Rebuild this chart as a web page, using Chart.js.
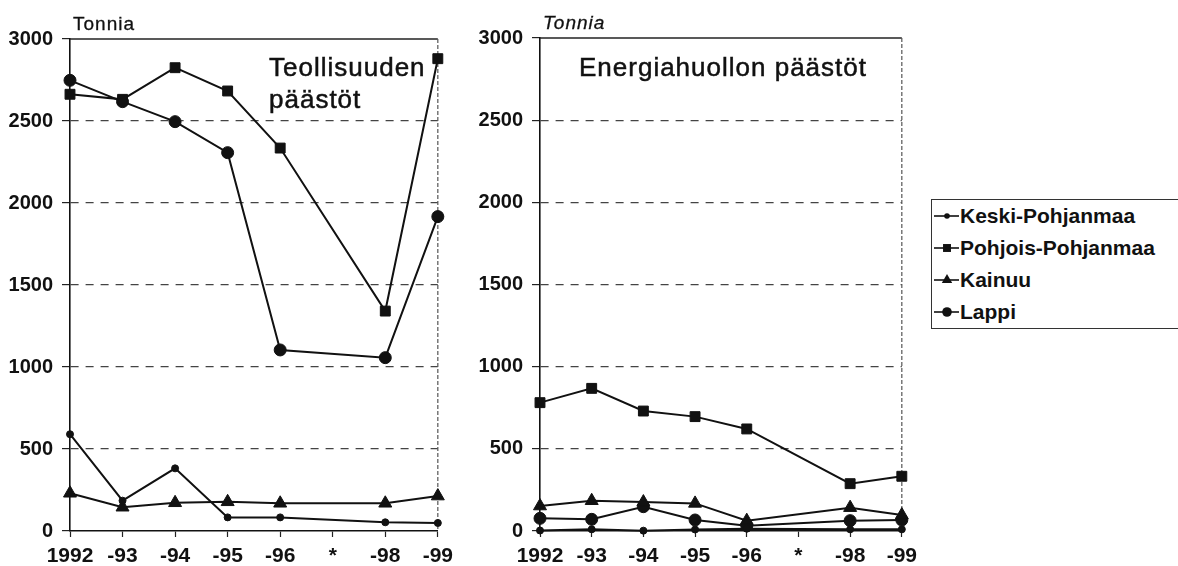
<!DOCTYPE html>
<html lang="fi">
<head>
<meta charset="utf-8">
<script src="https://cdn.jsdelivr.net/npm/chart.js@4.4.1/dist/chart.umd.min.js"></script>
<style>
  body { margin: 0; background: #fff; font-family: "Liberation Sans", Arial, sans-serif; color: #111; }
  #sivu { position: relative; width: 1178px; height: 566px; overflow: hidden; }
  canvas { position: absolute; top: 0; }
  #teol { left: 0; }
  #energia { left: 470px; }
  .yksikko { position: absolute; font-size: 19px; line-height: 20px; letter-spacing: 1px; -webkit-text-stroke: 0.3px #111; }
  .otsikko { position: absolute; font-size: 26px; line-height: 32px; letter-spacing: 1px; -webkit-text-stroke: 0.5px #111; }
  #selite { position: absolute; left: 931px; top: 199px; width: 260px; height: 128px;
            border: 1px solid #333; border-right: none; }
  #selite div { height: 32px; line-height: 32px; font-size: 21px; font-weight: bold; white-space: nowrap; }
  #selite svg { vertical-align: middle; margin-right: 1px; margin-top: -3px; }
</style>
</head>
<body>
<div id="sivu">
  <canvas id="teol" width="460" height="566"></canvas>
  <canvas id="energia" width="454" height="566"></canvas>
  <div class="yksikko" style="left:73px; top:14px;">Tonnia</div>
  <div class="yksikko" style="left:543px; top:13px; font-style:italic;">Tonnia</div>
  <div class="otsikko" style="left:269px; top:51px;">Teollisuuden<br>päästöt</div>
  <div class="otsikko" style="left:579px; top:51px;">Energiahuollon päästöt</div>
  <div id="selite"></div>
</div>
<script>
// Vuodet (1997 puuttuu, merkitty tähdellä)
const vuodet = ['1992', '-93', '-94', '-95', '-96', '*', '-98', '-99'];
const yMax = 3000;
const yAskel = 500;

// Teollisuuden päästöt, tonnia
const keskiTeol   = [590, 185, 382, 83, 83, null, 53, 49];
const pohjoisTeol = [2663, 2632, 2825, 2683, 2335, null, 1341, 2880];
const kainuuTeol  = [230, 145, 172, 178, 169, null, 169, 213];
const lappiTeol   = [2748, 2618, 2496, 2307, 1104, null, 1057, 1917];

// Energiahuollon päästöt, tonnia
const keskiEn   = [3, 10, 2, 9, 14, null, 10, 10];
const pohjoisEn = [781, 868, 730, 696, 621, null, 288, 333];
const kainuuEn  = [152, 184, 176, 168, 63, null, 142, 97];
const lappiEn   = [77, 71, 148, 67, 32, null, 63, 67];

const maakunnat = ['Keski-Pohjanmaa', 'Pohjois-Pohjanmaa', 'Kainuu', 'Lappi'];
const merkit = [
  { pointStyle: 'circle', radius: 3.5 },
  { pointStyle: 'rect', radius: 7 },
  { pointStyle: 'triangle', radius: 7.5 },
  { pointStyle: 'circle', radius: 6 }
];

const fontti = 'Liberation Sans, Arial, sans-serif';

// yläreuna ja oikea reuna piirtoalueelle
const kehys = {
  id: 'kehys',
  beforeDatasetsDraw(chart) {
    const { ctx, chartArea: a } = chart;
    ctx.save();
    ctx.strokeStyle = '#222';
    ctx.lineWidth = 1.5;
    ctx.beginPath();
    ctx.moveTo(a.left, a.top);
    ctx.lineTo(a.right, a.top);
    ctx.stroke();
    ctx.strokeStyle = '#555';
    ctx.lineWidth = 1.2;
    ctx.setLineDash([4, 2]);
    ctx.beginPath();
    ctx.moveTo(a.right, a.top);
    ctx.lineTo(a.right, a.bottom);
    ctx.stroke();
    ctx.restore();
  }
};

function sarjat(arvot) {
  return arvot.map((data, i) => ({
    label: maakunnat[i],
    data: data,
    borderColor: '#111',
    backgroundColor: '#111',
    borderWidth: 2,
    pointStyle: merkit[i].pointStyle,
    pointRadius: merkit[i].radius,
    pointHoverRadius: merkit[i].radius,
    pointBorderWidth: 1,
    spanGaps: true,
    tension: 0,
    clip: false
  }));
}

function kaavio(id, arvot, ylaTila) {
  return new Chart(document.getElementById(id), {
    type: 'line',
    data: { labels: vuodet, datasets: sarjat(arvot) },
    options: {
      responsive: false,
      animation: false,
      events: [],
      layout: { padding: { top: ylaTila, right: 21, left: 0, bottom: 0 } },
      plugins: { legend: { display: false }, tooltip: { enabled: false } },
      scales: {
        x: {
          offset: false,
          afterFit: s => { s.height = 35; },
          grid: { drawOnChartArea: false, tickLength: 6, tickColor: '#222', tickWidth: 1.2 },
          border: { color: '#111', width: 1.6 },
          ticks: {
            color: '#111', padding: 7, maxRotation: 0, autoSkip: false,
            font: { family: fontti, size: 21, weight: 'bold' }
          }
        },
        y: {
          min: 0, max: yMax,
          afterFit: s => { s.width = 70; },
          grid: {
            color: c => (c.tick && (c.tick.value === 0 || c.tick.value === yMax)) ? 'rgba(0,0,0,0)' : '#444',
            lineWidth: 1.2, tickLength: 8, tickColor: '#222', tickWidth: 1.2
          },
          border: { color: '#111', width: 1.6, dash: [8, 7] },
          ticks: {
            stepSize: yAskel, color: '#111', padding: 9,
            callback: v => String(v),
            font: { family: fontti, size: 20, weight: 'bold' }
          }
        }
      }
    },
    plugins: [kehys]
  });
}

const teolKaavio = kaavio('teol', [keskiTeol, pohjoisTeol, kainuuTeol, lappiTeol], 39);
kaavio('energia', [keskiEn, pohjoisEn, kainuuEn, lappiEn], 38);

// selite: viiva ja merkki kunkin maakunnan nimen edessä
function merkkiSvg(m) {
  const cx = 15, cy = 10, r = m.radius * 0.8;
  let muoto;
  if (m.pointStyle === 'rect') {
    const s = r * Math.SQRT1_2;
    muoto = `<rect x="${cx - s}" y="${cy - s}" width="${2 * s}" height="${2 * s}" fill="#111"/>`;
  } else if (m.pointStyle === 'triangle') {
    const p = [0, 1, 2].map(k => {
      const a = k * 2 * Math.PI / 3;
      return `${cx + Math.sin(a) * r},${cy - Math.cos(a) * r}`;
    }).join(' ');
    muoto = `<polygon points="${p}" fill="#111"/>`;
  } else {
    muoto = `<circle cx="${cx}" cy="${cy}" r="${r}" fill="#111"/>`;
  }
  return `<svg width="27" height="20"><line x1="2" y1="${cy}" x2="27" y2="${cy}" stroke="#111" stroke-width="1.6"/>${muoto}</svg>`;
}

document.getElementById('selite').innerHTML = teolKaavio.data.datasets
  .map((d, i) => `<div>${merkkiSvg(merkit[i])}${d.label}</div>`)
  .join('');
</script>
</body>
</html>
